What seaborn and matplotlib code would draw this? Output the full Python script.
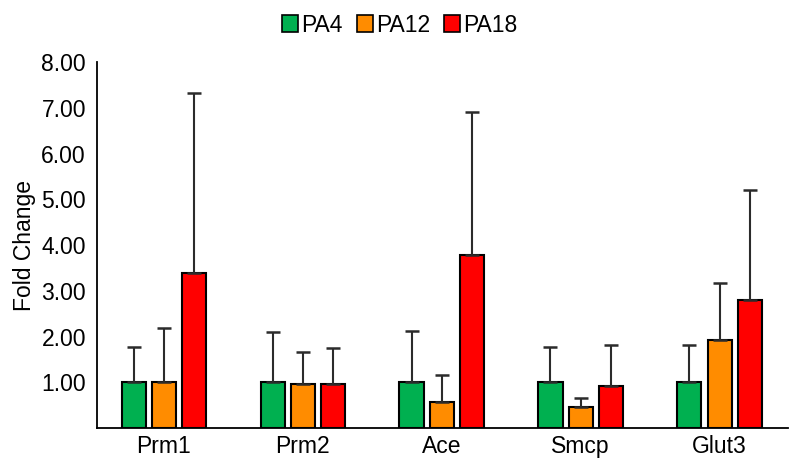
import matplotlib
matplotlib.use("Agg")
import matplotlib.pyplot as plt
import seaborn as sns
import pandas as pd
import numpy as np

genes = ["Prm1", "Prm2", "Ace", "Smcp", "Glut3"]
groups = ["PA4", "PA12", "PA18"]

pa4_mean = [1.00, 1.00, 1.00, 1.00, 1.00]
pa12_mean = [1.00, 0.97, 0.57, 0.46, 1.93]
pa18_mean = [3.40, 0.97, 3.78, 0.92, 2.79]

pa4_err = [0.78, 1.09, 1.13, 0.78, 0.82]
pa12_err = [1.18, 0.70, 0.59, 0.20, 1.24]
pa18_err = [3.92, 0.77, 3.14, 0.90, 2.42]

colors = ["#00B050", "#FF8C00", "#FF0000"]

means = {"PA4": pa4_mean, "PA12": pa12_mean, "PA18": pa18_mean}
errs = {"PA4": pa4_err, "PA12": pa12_err, "PA18": pa18_err}

rows = []
for g in groups:
    for gene, m in zip(genes, means[g]):
        rows.append((gene, g, m))
df = pd.DataFrame(rows, columns=["Gene", "Group", "Fold Change"])

sns.set_style("white")
plt.rcParams["font.family"] = ["Liberation Sans", "DejaVu Sans"]
plt.rcParams["text.color"] = "black"

fig = plt.figure(figsize=(7.92, 4.75), dpi=100)
ax = fig.add_axes([0.1225, 0.099, 0.872, 0.77])

sns.barplot(data=df, x="Gene", y="Fold Change", hue="Group",
            palette=colors, saturation=1, width=0.65, gap=0.2,
            errorbar=None, edgecolor="black", linewidth=1.5, ax=ax,
            legend=False)

# upper-only error bars
for cont, g in zip(ax.containers, groups):
    xs = [p.get_x() + p.get_width() / 2 for p in cont]
    hs = [p.get_height() for p in cont]
    ax.errorbar(xs, hs, yerr=[np.zeros(len(hs)), errs[g]], fmt="none",
                ecolor="#2b2b2b", elinewidth=1.5, capsize=5, capthick=1.8,
                zorder=1)

ax.set_ylim(0, 8)
ax.set_xlim(-0.48, 4.49)
ax.set_yticks(range(1, 9))
ax.set_yticklabels([f"{v:.2f}" for v in range(1, 9)])
ax.tick_params(axis="both", length=0, labelsize=16.5, labelcolor="black")
ax.tick_params(axis="y", pad=8)
ax.tick_params(axis="x", pad=5)
ax.set_xlabel("")
ax.set_ylabel("Fold Change", fontsize=16.5, labelpad=4, color="black")
for s in ["top", "right"]:
    ax.spines[s].set_visible(False)
for s in ["left", "bottom"]:
    ax.spines[s].set_color("black")
    ax.spines[s].set_linewidth(1.3)

handles = [plt.Rectangle((0, 0), 1, 1, facecolor=c, edgecolor="black",
                         linewidth=1.2) for c in colors]
fig.legend(handles, groups, loc="upper center", bbox_to_anchor=(0.505, 1.015),
           ncol=3, frameon=False, fontsize=16.5, handlelength=0.7,
           handleheight=0.7, handletextpad=0.15, columnspacing=0.6,
           labelcolor="black")

fig.savefig("out.png", dpi=100)
